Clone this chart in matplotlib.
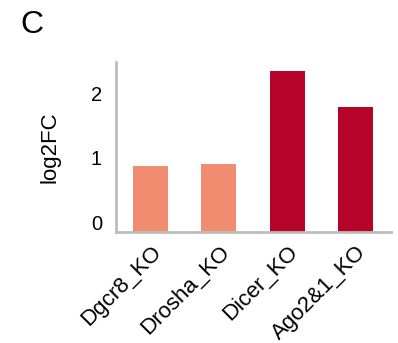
import matplotlib
matplotlib.use('Agg')
import matplotlib.pyplot as plt
import numpy as np

plt.rcParams['font.family'] = ['Liberation Sans', 'DejaVu Sans']

# data
samples = ['Dgcr8_KO', 'Drosha_KO', 'Dicer_KO', 'Ago2&1_KO']
log2fc = [0.87, 0.90, 2.34, 1.78]
colors = ['#F08D70', '#F08D70', '#B50428', '#B50428']
yticks = [0, 1, 2]

ybottom = -0.15
fig = plt.figure(figsize=(3.98, 3.43), dpi=100)
ax = fig.add_axes([116/398, 1 - 232/343, (391-116)/398, (232-62)/343])

x = np.arange(len(samples))
vals = np.array(log2fc)
ax.bar(x, vals - ybottom, bottom=ybottom, width=0.51, color=colors)

ax.set_xlim(-0.507, 3.52)
ax.set_ylim(ybottom, 2.48)
ax.set_yticks(yticks)
ax.set_xticks(x)
ax.set_xticklabels(samples, rotation=45, ha='right', rotation_mode='anchor', fontsize=16)
ax.tick_params(axis='both', length=0)
ax.tick_params(axis='y', pad=10, labelsize=14.5)
ax.tick_params(axis='x', pad=7)
ax.set_ylabel('log2FC', fontsize=16, labelpad=22)

for s in ['top', 'right']:
    ax.spines[s].set_visible(False)
for s in ['left', 'bottom']:
    ax.spines[s].set_color('#BDBDBD')
    ax.spines[s].set_linewidth(2)

fig.text(20/398, 1 - 33/343, 'C', fontsize=23)

fig.savefig('out.png', dpi=100)
